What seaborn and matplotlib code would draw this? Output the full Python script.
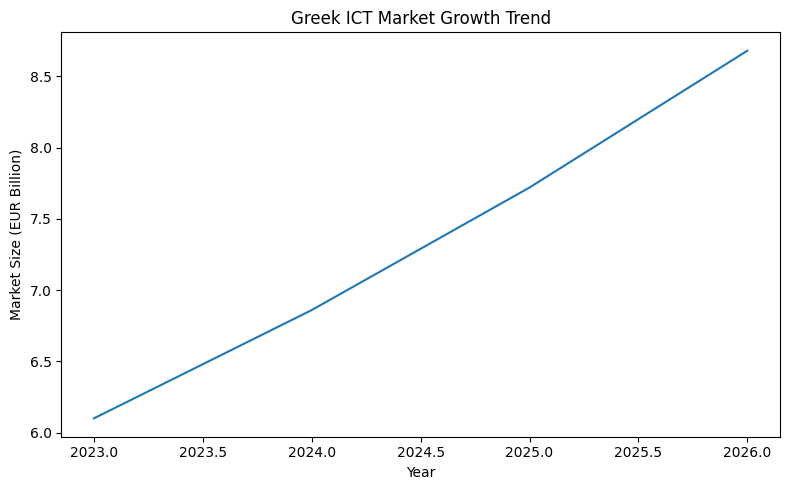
import seaborn as sns
import pandas as pd
import matplotlib.pyplot as plt

years = [2023, 2024, 2025, 2026]
market_size = [6.10, 6.86, 7.72, 8.68]

df = pd.DataFrame({'Year': years, 'Market Size': market_size})

fig, ax = plt.subplots(figsize=(8, 5), dpi=100)
sns.lineplot(x='Year', y='Market Size', data=df, ax=ax)
ax.set_xlabel('Year')
ax.set_ylabel('Market Size (EUR Billion)')
ax.set_title('Greek ICT Market Growth Trend')
plt.tight_layout()
plt.savefig('out.png', bbox_inches='tight')
